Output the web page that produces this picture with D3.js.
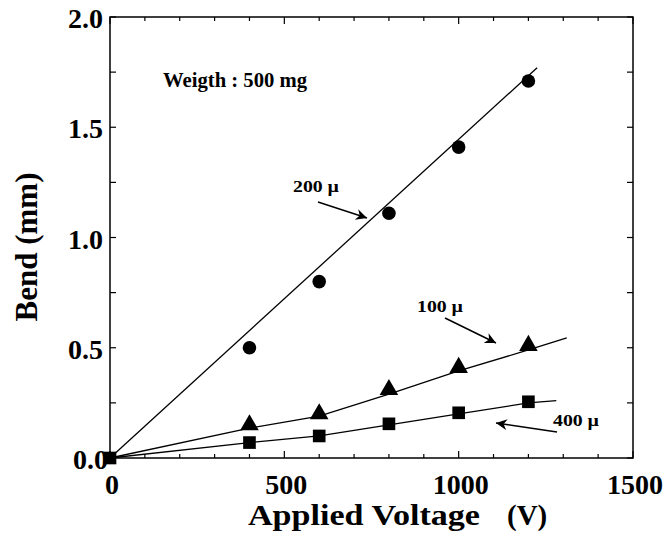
<!DOCTYPE html>
<html>
<head>
<meta charset="utf-8">
<script src="https://cdn.jsdelivr.net/npm/d3@7"></script>
<style>
  body { margin: 0; background: #fff; }
  svg text { font-family: "Liberation Serif", "Times New Roman", Times, "DejaVu Serif", serif; font-weight: bold; fill: #000; }
</style>
</head>
<body>
<div id="chart"></div>
<script>
// Data
const voltages = [0, 400, 600, 800, 1000, 1200];
const bend200 = [0, 0.50, 0.80, 1.11, 1.41, 1.71];
const bend100 = [0, 0.15, 0.20, 0.31, 0.41, 0.51];
const bend400 = [0, 0.07, 0.10, 0.155, 0.205, 0.255];

// fitted lines drawn through the points
const fit200 = [[0, 0], [1225, 1.77]];
const fit100 = [[0, 0], [400, 0.135], [600, 0.19], [800, 0.29], [1000, 0.395], [1200, 0.49], [1310, 0.545]];
const fit400 = [[0, 0], [400, 0.07], [600, 0.10], [800, 0.15], [1000, 0.20], [1200, 0.25], [1280, 0.26]];

const xTicks = [0, 500, 1000, 1500];
const yTicks = [0, 0.5, 1.0, 1.5, 2.0];

const width = 669, height = 534;
const margin = { left: 110, right: 36, top: 17, bottom: 76 };

const svg = d3.select("#chart").append("svg")
    .attr("width", width)
    .attr("height", height);

const x = d3.scaleLinear().domain([0, 1500]).range([margin.left, width - margin.right]);
const y = d3.scaleLinear().domain([0, 2.0]).range([height - margin.bottom, margin.top]);

// frame
svg.append("rect")
    .attr("x", x(0)).attr("y", y(2))
    .attr("width", x(1500) - x(0)).attr("height", y(0) - y(2))
    .attr("fill", "none").attr("stroke", "#000").attr("stroke-width", 1.5);

// inward ticks on all four sides
const xMinor = d3.range(0, 1501, 100);
const yMinor = d3.range(0, 2.001, 0.25);
const tickG = svg.append("g").attr("stroke", "#000").attr("stroke-width", 1.2);
xMinor.forEach(v => {
    const len = v % 500 === 0 ? 7 : 4;
    tickG.append("line").attr("x1", x(v)).attr("x2", x(v)).attr("y1", y(0)).attr("y2", y(0) - len);
    tickG.append("line").attr("x1", x(v)).attr("x2", x(v)).attr("y1", y(2)).attr("y2", y(2) + len);
});
yMinor.forEach(v => {
    tickG.append("line").attr("x1", x(0)).attr("x2", x(0) + 6).attr("y1", y(v)).attr("y2", y(v));
    tickG.append("line").attr("x1", x(1500)).attr("x2", x(1500) - 6).attr("y1", y(v)).attr("y2", y(v));
});

// tick labels
svg.append("g").selectAll("text").data(yTicks).join("text")
    .attr("x", d => x(0) - (d === 0 ? 2 : 7)).attr("y", d => y(d) + 11)
    .attr("text-anchor", "end").style("font-size", "28px")
    .text(d => d.toFixed(1));

svg.append("g").selectAll("text").data(xTicks).join("text")
    .attr("x", d => x(d) + 2).attr("y", y(0) + 36)
    .attr("text-anchor", "middle").style("font-size", "28px")
    .text(d => d);

// axis titles
svg.append("text")
    .attr("transform", "translate(37,247) rotate(-90)")
    .attr("text-anchor", "middle").style("font-size", "31px")
    .text("Bend (mm)");

svg.append("text")
    .attr("x", 248).attr("y", 525)
    .style("font-size", "29px")
    .attr("textLength", 232).attr("lengthAdjust", "spacingAndGlyphs")
    .text("Applied Voltage");
svg.append("text")
    .attr("x", 507).attr("y", 525)
    .style("font-size", "29px")
    .text("(V)");

// fitted lines
const line = d3.line().x(d => x(d[0])).y(d => y(d[1]));
[fit200, fit100, fit400].forEach(f => {
    svg.append("path").attr("d", line(f))
        .attr("fill", "none").attr("stroke", "#000").attr("stroke-width", 1.3);
});

// markers
const pts = s => voltages.map((v, i) => [v, s[i]]);
svg.append("g").selectAll("circle").data(pts(bend200).slice(1)).join("circle")
    .attr("cx", d => x(d[0])).attr("cy", d => y(d[1])).attr("r", 6.8);

const tri = d3.symbol().type(d3.symbolTriangle).size(150);
svg.append("g").selectAll("path").data(pts(bend100).slice(1)).join("path")
    .attr("d", tri).attr("transform", d => `translate(${x(d[0])},${y(d[1])})`);

const sq = d3.symbol().type(d3.symbolSquare).size(160);
svg.append("g").selectAll("path").data(pts(bend400)).join("path")
    .attr("d", sq).attr("transform", d => `translate(${x(d[0])},${y(d[1])})`);

// annotations
svg.append("text").attr("x", 163).attr("y", 87).style("font-size", "20px")
    .attr("textLength", 144).attr("lengthAdjust", "spacingAndGlyphs")
    .text("Weigth : 500 mg");

const defs = svg.append("defs");
defs.append("marker").attr("id", "arr").attr("viewBox", "0 0 10 10")
    .attr("refX", 10).attr("refY", 5).attr("markerWidth", 15).attr("markerHeight", 11)
    .attr("markerUnits", "userSpaceOnUse").attr("orient", "auto")
    .append("path").attr("d", "M0,0 L10,5 L0,10 L3,5 Z").attr("fill", "#000");

const notes = [
    { label: "200 µ", tx: 293, ty: 192, from: [318, 202], to: [367, 218] },
    { label: "100 µ", tx: 417, ty: 312, from: [445, 318], to: [496, 343] },
    { label: "400 µ", tx: 553, ty: 426, from: [557, 432], to: [496, 423] }
];
notes.forEach(n => {
    svg.append("text").attr("x", n.tx).attr("y", n.ty).style("font-size", "17px")
        .attr("textLength", 46).attr("lengthAdjust", "spacingAndGlyphs")
        .text(n.label);
    svg.append("line")
        .attr("x1", n.from[0]).attr("y1", n.from[1]).attr("x2", n.to[0]).attr("y2", n.to[1])
        .attr("stroke", "#000").attr("stroke-width", 1.5).attr("marker-end", "url(#arr)");
});
</script>
</body>
</html>
